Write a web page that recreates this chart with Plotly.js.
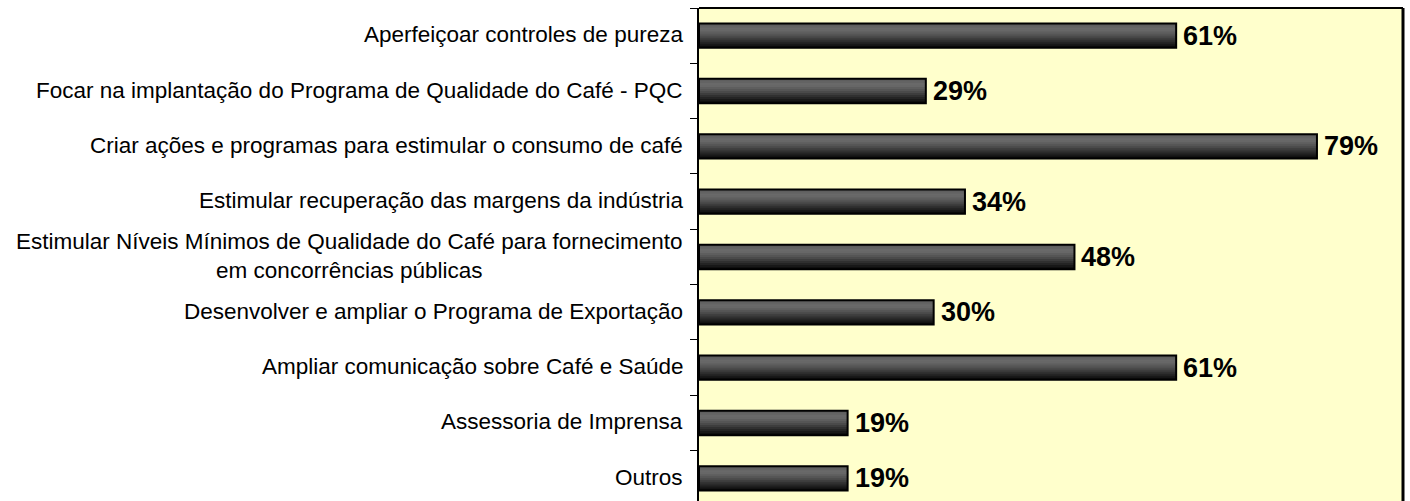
<!DOCTYPE html>
<html>
<head>
<meta charset="utf-8">
<script src="https://cdn.plot.ly/plotly-3.0.1.min.js"></script>
<style>html,body{margin:0;padding:0;background:#fff;}#chart{width:1410px;height:501px;}</style>
</head>
<body>
<div id="chart"></div>
<script>
const categories = [
  "Aperfeiçoar controles de pureza",
  "Focar na implantação do Programa de Qualidade do Café - PQC",
  "Criar ações e programas para estimular o consumo de café",
  "Estimular recuperação das margens da indústria",
  "Estimular Níveis Mínimos de Qualidade do Café para fornecimento<br>em concorrências públicas",
  "Desenvolver e ampliar o Programa de Exportação",
  "Ampliar comunicação sobre Café e Saúde",
  "Assessoria de Imprensa",
  "Outros"
];
const values = [61, 29, 79, 34, 48, 30, 61, 19, 19];
const valueLabels = values.map(v => v + "%");

const BAR_W = 0.44;
const N = 12;
// vertical shading profile of the bars (top -> bottom)
const stops = [[0, 90], [0.25, 108], [0.5, 80], [0.75, 42], [1, 6]];
function shade(t) {
  for (let k = 0; k < stops.length - 1; k++) {
    const [t0, v0] = stops[k], [t1, v1] = stops[k + 1];
    if (t >= t0 && t <= t1) {
      const v = Math.round(v0 + (v1 - v0) * (t - t0) / (t1 - t0));
      return `rgb(${v},${v},${v})`;
    }
  }
  return "rgb(6,6,6)";
}

const traces = [];
for (let i = 0; i < N; i++) {
  const t = (i + 0.5) / N;
  traces.push({
    type: "bar", orientation: "h",
    x: values, y: categories,
    width: BAR_W * (1 - i / N),
    offset: -BAR_W / 2 + i * BAR_W / N,
    marker: {color: shade(t), line: {width: 0}},
    hoverinfo: "skip", showlegend: false
  });
}
traces.push({
  type: "bar", orientation: "h",
  x: values, y: categories,
  width: BAR_W, offset: -BAR_W / 2,
  marker: {color: "rgba(0,0,0,0)", line: {width: 2, color: "#000"}},
  hoverinfo: "skip", showlegend: false
});

const annotations = [];
categories.forEach((c, i) => {
  annotations.push({
    x: 0, y: c, xref: "x", yref: "y", text: c, showarrow: false,
    xanchor: "right", yanchor: "middle", align: "center", xshift: -14, yshift: 1,
    font: {family: "Arial, 'Liberation Sans', sans-serif", size: 22.5, color: "#000"}
  });
  annotations.push({
    x: values[i], y: c, xref: "x", yref: "y", text: "<b>" + valueLabels[i] + "</b>",
    showarrow: false, xanchor: "left", yanchor: "middle", xshift: 5, yshift: 0,
    font: {family: "Arial, 'Liberation Sans', sans-serif", size: 27, color: "#000"}
  });
});

const layout = {
  width: 1410, height: 501,
  margin: {l: 699, r: 7, t: 8, b: 0, pad: 0},
  paper_bgcolor: "#ffffff",
  plot_bgcolor: "#ffffcc",
  barmode: "overlay",
  showlegend: false,
  xaxis: {range: [0, 90], showgrid: false, zeroline: false, showline: false,
          showticklabels: false, ticks: "", fixedrange: true},
  yaxis: {type: "category", range: [8.41, -0.5], showgrid: false, zeroline: false,
          showline: true, linecolor: "#000", linewidth: 2,
          ticks: "outside", tickson: "boundaries", ticklen: 7, tickwidth: 1, tickcolor: "#000",
          showticklabels: false, fixedrange: true},
  shapes: [
    {type: "line", xref: "paper", yref: "paper", x0: 0, x1: 1, y0: 1, y1: 1,
     line: {color: "#000", width: 2}},
    {type: "line", xref: "paper", yref: "paper", x0: 1, x1: 1, y0: 0, y1: 1,
     line: {color: "#000", width: 3}}
  ],
  annotations: annotations
};

Plotly.newPlot("chart", traces, layout, {staticPlot: true, displayModeBar: false});
</script>
</body>
</html>
